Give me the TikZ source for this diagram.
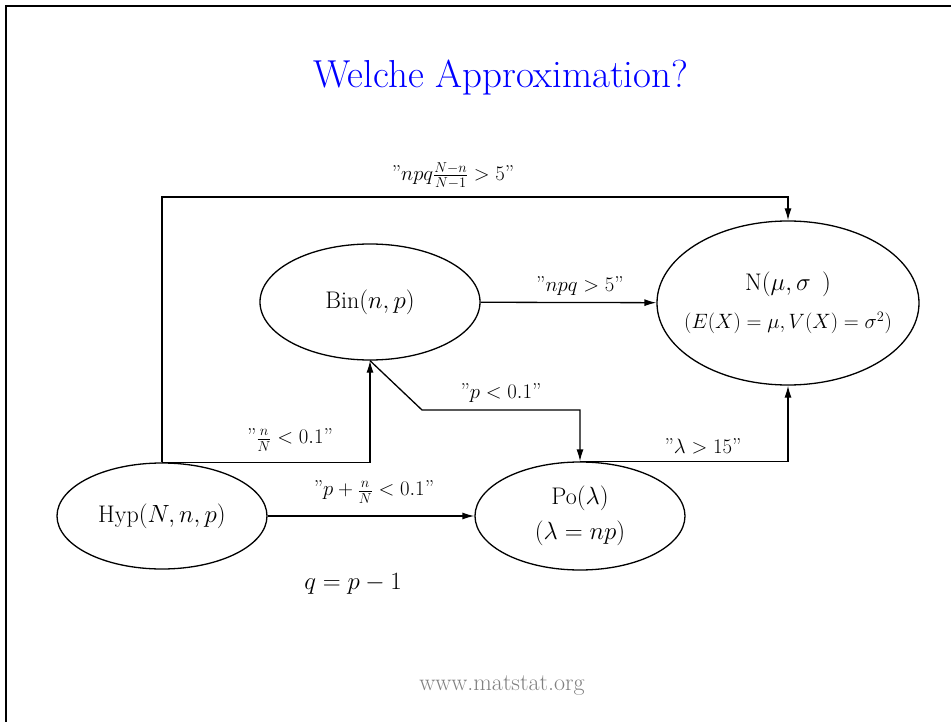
\documentclass[tikz,border=0pt]{standalone}
\usetikzlibrary{shapes.geometric,arrows.meta}
\tikzset{
  distr/.style={draw, ellipse, line width=1.3pt, inner sep=0pt, align=center,
    font=\fontsize{24}{28}\selectfont},
  cond/.style={font=\fontsize{21.5}{26}\selectfont},
  flow/.style={line width=1.3pt, -{Latex[length=12pt,width=7pt]}},
}
\begin{document}
\begin{tikzpicture}[x=1pt,y=-1pt]
  \useasboundingbox (0,0) rectangle (951,722);
  % frame of the slide
  \draw[line width=2.5pt] (6,722) -- (6,6) -- (951,6);
  \node[text=blue, font=\fontsize{39}{44}\selectfont] (title) at (501,78) {Welche Approximation?};

  % distributions
  \node[distr, minimum width=210, minimum height=106] (hyp) at (162,516) {Hyp$(N,n,p)$};
  \node[distr, minimum width=220, minimum height=116] (bin) at (370,302) {Bin$(n,p)$};
  \node[distr, minimum width=210, minimum height=108] (po) at (580,516)
    {Po$(\lambda)$\\[7pt]$(\lambda=np)$};
  \node[distr, inner xsep=-30pt, minimum width=262, minimum height=164] (norm) at (788,303)
    {N$(\mu,\sigma\;\,)$\\[10pt]{\fontsize{19.5}{23}\selectfont$(E(X)=\mu,V(X)=\sigma^2)$}};

  % approximations
  \coordinate (top) at (0,197);
  \coordinate (bend) at (422,410);
  \draw[flow] (hyp.north) -- (hyp.north |- top) -| (norm.north);
  \draw[flow] (hyp.north) -| (bin.south);
  \draw[flow] (hyp) -- (po);
  \draw[flow] (bin) -- (norm);
  \draw[flow] (bin.south) -- (bend) -| (po.north);
  \draw[flow] (po.north) -| (norm.south);

  % conditions
  \node[cond] (c1) at (453,176) {''$npq\frac{N-n}{N-1}>5$''};
  \node[cond] (c2) at (580,286) {''$npq>5$''};
  \node[cond] (c3) at (501,393) {''$p<0.1$''};
  \node[cond] (c4) at (290,440) {''$\frac{n}{N}<0.1$''};
  \node[cond] (c5) at (374,492) {''$p+\frac{n}{N}<0.1$''};
  \node[cond] (c6) at (703,446) {''$\lambda>15$''};

  \node[font=\fontsize{25}{30}\selectfont] (qdef) at (353,584) {$q=p-1$};
  \node[text=gray, font=\fontsize{24}{28}\selectfont] (site) at (502,686) {www.matstat.org};
\end{tikzpicture}
\end{document}
